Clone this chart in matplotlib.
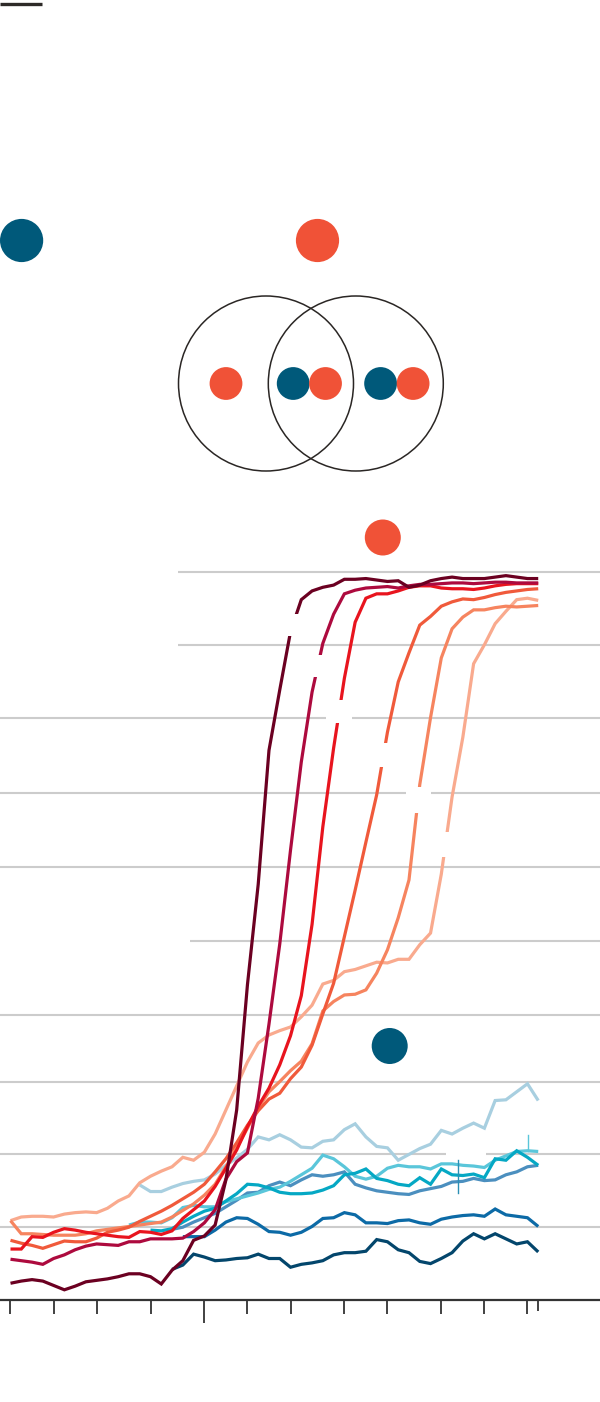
import numpy as np
import matplotlib
matplotlib.use("Agg")
import matplotlib.pyplot as plt
from matplotlib.patches import Circle, Rectangle

# weekly shares (%)
# red series run over all 50 weeks
maroon = [2.3, 2.6, 2.8, 2.6, 2.0, 1.4, 1.9, 2.5, 2.7, 2.9,
          3.2, 3.6, 3.6, 3.2, 2.2, 4.1, 5.4, 8.2, 8.8, 10.3,
          16.5, 26.1, 43.3, 57.1, 75.5, 83.8, 91.8, 96.2, 97.4, 97.9,
          98.2, 99.0, 99.0, 99.1, 98.9, 98.7, 98.8, 97.9, 98.2, 98.8,
          99.1, 99.3, 99.1, 99.1, 99.1, 99.3, 99.5, 99.3, 99.1, 99.1]
crimson = [5.6, 5.4, 5.2, 4.9, 5.7, 6.2, 6.9, 7.4, 7.7, 7.6,
           7.5, 8.0, 8.0, 8.4, 8.4, 8.4, 8.5, 9.4, 10.6, 12.4,
           16.6, 19.0, 20.2, 27.7, 37.9, 48.9, 61.8, 73.9, 83.5, 90.2,
           94.2, 97.0, 97.5, 97.8, 97.9, 98.0, 97.8, 98.1, 98.3, 98.3,
           98.4, 98.5, 98.5, 98.4, 98.5, 98.6, 98.6, 98.5, 98.5, 98.5]
bright_red = [7.0, 7.0, 8.7, 8.6, 9.3, 9.8, 9.6, 9.3, 9.1, 8.9,
              8.7, 8.6, 9.4, 9.3, 9.0, 9.5, 11.2, 12.4, 13.6, 15.6,
              18.1, 20.6, 23.8, 26.6, 29.1, 32.3, 36.3, 41.8, 51.6, 65.0,
              75.8, 85.4, 93.1, 96.4, 97.0, 97.0, 97.4, 97.9, 98.1, 98.1,
              97.8, 97.7, 97.7, 97.6, 97.8, 98.1, 98.3, 98.4, 98.4, 98.4]
red_orange = [8.2, 7.8, 7.5, 7.1, 7.6, 8.1, 8.0, 8.0, 8.5, 9.3,
              9.6, 10.0, 10.8, 11.5, 12.2, 13.0, 13.9, 14.8, 15.9, 17.6,
              19.4, 21.6, 24.0, 26.0, 27.6, 28.4, 30.4, 32.0, 35.0, 39.3,
              43.5, 49.9, 56.3, 62.9, 69.4, 78.0, 84.9, 88.9, 92.7, 93.9,
              95.3, 95.9, 96.3, 96.2, 96.5, 96.9, 97.2, 97.4, 97.6, 97.7]
salmon = [10.9, 9.1, 9.1, 9.0, 8.9, 8.9, 8.9, 9.1, 9.5, 9.7,
          9.9, 10.1, 10.3, 10.5, 10.7, 11.4, 12.3, 13.2, 14.4, 15.9,
          18.3, 20.9, 23.6, 26.4, 28.6, 30.0, 31.5, 32.8, 35.2, 39.7,
          41.0, 41.9, 42.0, 42.6, 44.9, 48.1, 52.5, 57.7, 70.8, 80.0,
          88.2, 92.2, 93.8, 94.8, 94.8, 95.1, 95.3, 95.2, 95.3, 95.4]
light_salmon = [10.9, 11.4, 11.5, 11.5, 11.4, 11.8, 12.0, 12.1, 12.0, 12.6,
                13.6, 14.3, 16.1, 17.0, 17.7, 18.3, 19.6, 19.2, 20.3, 22.8,
                26.1, 29.4, 32.7, 35.3, 36.4, 37.0, 37.5, 38.9, 40.5, 43.4,
                43.9, 45.1, 45.4, 45.9, 46.4, 46.3, 46.8, 46.8, 48.8, 50.4,
                58.5, 69.1, 77.3, 87.4, 90.0, 92.9, 94.6, 96.2, 96.4, 96.1]

# blue series start later, up to week 49
light_blue_start = 12
light_blue = [15.8, 14.9, 14.9, 15.5, 16.0, 16.3, 16.5, 17.3, 18.5, 19.5,
              20.7, 22.4, 22.0, 22.7, 22.0, 21.0, 20.9, 21.8, 22.0, 23.4,
              24.2, 22.4, 21.1, 20.9, 19.2, 20.0, 20.8, 21.4, 23.3, 22.8,
              23.6, 24.3, 23.6, 27.4, 27.5, 28.6, 29.7, 27.4]
light_cyan_start = 11
light_cyan = [10.3, 10.7, 10.7, 10.6, 11.3, 12.7, 13.0, 12.8, 12.8, 13.5,
              13.9, 14.3, 14.7, 15.2, 15.5, 16.3, 17.2, 18.1, 19.9, 19.4,
              18.3, 17.0, 16.6, 17.0, 18.1, 18.5, 18.3, 18.3, 18.0, 18.7,
              18.7, 18.5, 18.4, 18.2, 19.2, 19.8, 20.4, 20.5, 20.4]
teal_start = 13
teal = [9.6, 9.5, 9.8, 10.7, 11.5, 12.2, 12.6, 13.6,
        14.6, 15.9, 15.8, 15.4, 14.8, 14.6, 14.6, 14.7, 15.1, 15.7,
        17.2, 17.4, 18.0, 16.7, 16.4, 15.9, 15.7, 16.8, 15.9, 18.0,
        17.2, 17.1, 17.3, 16.8, 19.4, 19.2, 20.5, 19.6, 18.5]
steel_blue_start = 15
steel_blue = [9.7, 10.0, 10.7, 11.3, 11.9, 12.8,
              13.7, 14.7, 14.8, 15.7, 16.2, 15.7, 16.5, 17.2, 17.0, 17.2,
              17.6, 15.9, 15.4, 15.0, 14.8, 14.6, 14.5, 15.0, 15.3, 15.6,
              16.2, 16.3, 16.7, 16.4, 16.5, 17.2, 17.6, 18.3, 18.5]
medium_blue_start = 16
medium_blue = [8.7, 8.7, 8.7, 9.6, 10.7,
               11.3, 11.2, 10.4, 9.4, 9.3, 8.9, 9.3, 10.1, 11.2, 11.3,
               12.0, 11.7, 10.6, 10.6, 10.5, 10.9, 11.0, 10.6, 10.4, 11.1,
               11.4, 11.6, 11.7, 11.5, 12.5, 11.7, 11.5, 11.3, 10.1]
navy_start = 15
navy = [4.2, 4.8, 6.3, 5.9, 5.4, 5.5,
        5.7, 5.8, 6.3, 5.7, 5.7, 4.5, 4.9, 5.1, 5.4, 6.2,
        6.5, 6.5, 6.7, 8.3, 8.0, 6.9, 6.5, 5.3, 5.0, 5.7,
        6.5, 8.1, 9.1, 8.4, 9.1, 8.4, 7.7, 8.0, 6.6]

# month ticks (week index), the long one marks the new year
tick_weeks = [0, 4, 8, 13, 18, 22, 26, 31, 35, 40, 44, 48, 49]
long_tick_week = 18
grid_levels = [100, 90, 80, 69.7, 59.5, 49.3, 39.2, 30, 20, 10]

fig = plt.figure(figsize=(6, 14.02), dpi=100)
ax = fig.add_axes([0, 0, 1, 1])
# pixel 0..600 -> weeks, pixel 0..1402 -> percent
x_left = -10.5 / 10.77
x_right = (600 - 10.5) / 10.77
ax.set_xlim(x_left, x_right)
ax.set_ylim((1300 - 1402) / 7.28, 1300 / 7.28)
ax.axis('off')

grid_start = {100: 15.55, 90: 15.55, 49.3: 16.67}
for g in grid_levels:
    ax.hlines(g, grid_start.get(g, x_left), x_right, color='#cccccc', lw=1.5, zorder=1)

ax.axhline(0, color='#333333', lw=1.6, zorder=2)
for w in tick_weeks:
    if w == long_tick_week:
        ln = 3.1
    elif w == tick_weeks[-1]:
        ln = 1.45
    else:
        ln = 1.95
    ax.vlines(w, -ln, 0, color='#333333', lw=1.3, zorder=2)

blue_series = [
    (light_blue_start, light_blue, '#a8cfe0'),
    (steel_blue_start, steel_blue, '#4b8fbf'),
    (light_cyan_start, light_cyan, '#5ac6da'),
    (teal_start, teal, '#05a8c4'),
    (medium_blue_start, medium_blue, '#0c6aa6'),
    (navy_start, navy, '#03466c'),
]
for start, vals, col in blue_series:
    weeks = np.arange(start, start + len(vals))
    ax.plot(weeks, vals, color=col, lw=2.3, zorder=3,
            solid_joinstyle='miter', solid_capstyle='butt')

red_series = [light_salmon, salmon, red_orange, bright_red, crimson, maroon]
red_colors = ['#f9aa8e', '#f6845f', '#f05a3b', '#e8141e', '#ad0a3e', '#6b0021']
for vals, col in zip(red_series, red_colors):
    weeks = np.arange(len(vals))
    ax.plot(weeks, vals, color=col, lw=2.3, zorder=4,
            solid_joinstyle='miter', solid_capstyle='butt')

# overlay in pixel units for the key graphics and label knockouts
ov = fig.add_axes([0, 0, 1, 1], zorder=5)
ov.set_xlim(0, 600)
ov.set_ylim(1402, 0)
ov.axis('off')
ov.patch.set_alpha(0)

# white knockouts where the line labels sat
for cx, cy, w, h in [(291, 625, 24, 22), (317, 666, 20, 22), (339, 711.5, 26, 23),
                     (382.5, 755, 20, 24), (418.5, 800, 25, 26), (445.5, 844.5, 20, 25),
                     (466, 1154, 40, 10)]:
    ov.add_patch(Rectangle((cx - w / 2, cy - h / 2), w, h, color='white', lw=0))

ov.plot([458, 458], [1160, 1193], color='#2b8fb5', lw=1.0)
ov.plot([528, 528], [1135, 1151], color='#5ac6da', lw=1.0)

ov.plot([0, 42], [4.3, 4.3], color='#2d2a28', lw=2.4, solid_capstyle='butt')

blue_dot = '#00597a'
orange_dot = '#f05237'
ov.add_patch(Circle((21.6, 240.5), 21.6, color=blue_dot, lw=0))
ov.add_patch(Circle((317.5, 240.5), 21.6, color=orange_dot, lw=0))

ov.add_patch(Circle((266, 383.5), 87.5, fill=False, ec='#2a2624', lw=1.1))
ov.add_patch(Circle((355.8, 383.5), 87.5, fill=False, ec='#2a2624', lw=1.1))
for cx, col in [(226, orange_dot), (293.2, blue_dot), (325.5, orange_dot),
                (380.6, blue_dot), (413.1, orange_dot)]:
    ov.add_patch(Circle((cx, 383.5), 16.4, color=col, lw=0))

ov.add_patch(Circle((382.8, 537.5), 18, color=orange_dot, lw=0))
ov.add_patch(Circle((389.7, 1046), 18, color=blue_dot, lw=0))

fig.savefig('out.png', dpi=100, facecolor='white')
